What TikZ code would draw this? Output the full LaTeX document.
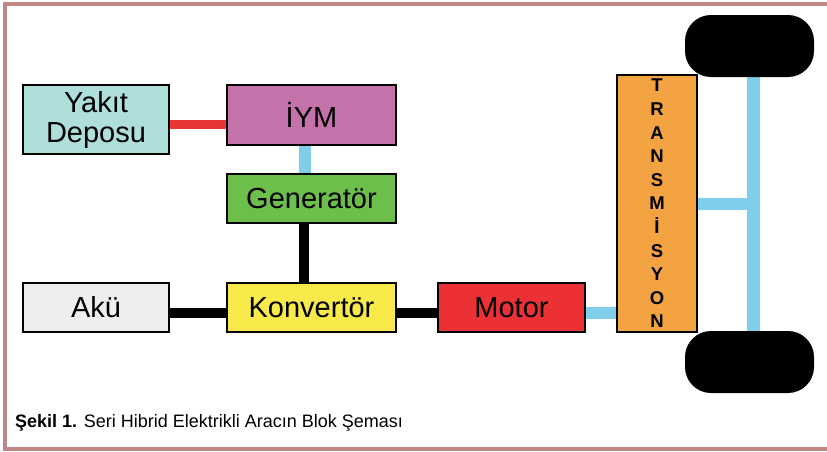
\documentclass[tikz,border=0pt]{standalone}
\usepackage{fontspec}
\setmainfont{Liberation Sans}
\usetikzlibrary{backgrounds}
\definecolor{framec}{HTML}{C08585}
\definecolor{tealc}{HTML}{AEDFDB}
\definecolor{iymc}{HTML}{C472AA}
\definecolor{genc}{HTML}{6DBF4B}
\definecolor{konvc}{HTML}{F8EA4A}
\definecolor{akuc}{HTML}{EEEEEE}
\definecolor{motorc}{HTML}{EB3136}
\definecolor{transc}{HTML}{F4A342}
\definecolor{bluec}{HTML}{7FCFEA}
\definecolor{redc}{HTML}{E93538}
\tikzset{
  blk/.style={draw=black, line width=1.2pt, rectangle, inner sep=0pt, align=center,
    font=\fontsize{29}{30}\selectfont},
  wheel/.style={fill=black, rectangle, rounded corners=26pt, minimum width=129pt, minimum height=62pt},
  blueln/.style={draw=bluec, line width=12pt},
  redln/.style={draw=redc, line width=9pt},
  blackln/.style={draw=black, line width=10pt},
  frameln/.style={draw=framec, line width=4pt}
}
\begin{document}
\begin{tikzpicture}[x=1pt,y=-1pt]
\useasboundingbox (0,0) rectangle (827,451);
\draw[frameln] (827,4) -- (5,4) -- (5,449) -- (827,449);
% boxes
\node[blk, fill=tealc, minimum width=146pt, minimum height=69pt] (yd) at (96,119.5) {Yakıt\\Deposu};
\node[blk, fill=iymc, minimum width=169pt, minimum height=60pt] (iym) at (311.5,115) {İYM};
\node[blk, fill=genc, minimum width=169pt, minimum height=49pt] (gen) at (311.5,198.5) {Generatör};
\node[blk, fill=konvc, minimum width=169pt, minimum height=49pt] (konv) at (311.5,307.5) {Konvertör};
\node[blk, fill=akuc, minimum width=146pt, minimum height=49pt] (aku) at (96,307.5) {Akü};
\node[blk, fill=motorc, minimum width=147pt, minimum height=49pt] (motor) at (511.5,307.5) {Motor};
\node[blk, fill=transc, minimum width=80pt, minimum height=257pt,
  font=\fontsize{18.5}{23.6}\selectfont\bfseries] (trans) at (657,203.5)
  {T\\R\\A\\N\\S\\M\\İ\\S\\Y\\O\\N};
\node[wheel] (w1) at (749.5,46) {};
\node[wheel] (w2) at (749.5,362) {};
% connectors
\begin{scope}[on background layer]
\draw[redln] ([yshift=-5pt]yd.east) -- ([yshift=-5pt]yd.east -| iym.west);
\draw[blueln] ([xshift=-7pt]iym.south) -- ([xshift=-7pt]gen.north);
\draw[blackln] ([xshift=-8pt]gen.south) -- ([xshift=-8pt]konv.north);
\draw[blackln] ([yshift=-5pt]aku.east) -- ([yshift=-5pt]konv.west);
\draw[blackln] ([yshift=-5pt]konv.east) -- ([yshift=-5pt]motor.west);
\draw[blueln] ([yshift=-5.5pt]motor.east) -- ([yshift=-5.5pt]motor.east -| trans.west);
\draw[blueln, line width=13pt] ([xshift=3.5pt]w1.south) -- ([xshift=3.5pt]w2.north);
\draw[blueln] (trans.east) -- ([xshift=3.5pt]trans.east -| w1.south);
\end{scope}
% caption
\node[anchor=base west, inner sep=0pt, font=\fontsize{18}{20}\selectfont] (cap) at (15,427)
  {\textbf{Şekil 1.} Seri Hibrid Elektrikli Aracın Blok Şeması};
\end{tikzpicture}
\end{document}
